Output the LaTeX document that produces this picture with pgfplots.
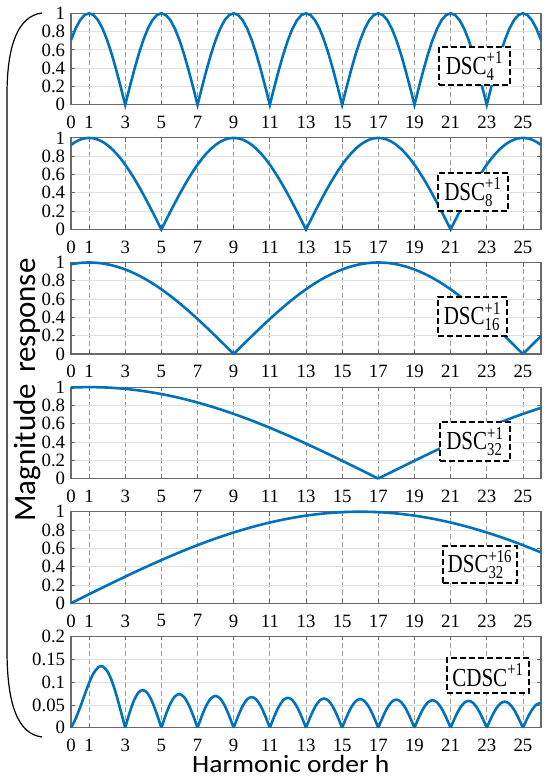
\documentclass[border=0pt]{standalone}
\usepackage{fontspec}
\setmainfont{Liberation Serif}
\newfontfamily\tnr{Liberation Serif}
\newfontfamily\calibri{Carlito}
\usepackage{amsmath}
\usepackage{graphicx}
\usepackage{pgfplots}
\pgfplotsset{compat=1.18}
\definecolor{mblue}{RGB}{0,114,189}
\definecolor{framec}{RGB}{105,105,105}

\pgfplotsset{
  panel/.style={
    scale only axis, width=235pt, height=45.75pt,
    anchor=north west,
    xmin=0, xmax=26,
    xtick={0,1,3,5,7,9,11,13,15,17,19,21,23,25},
    ymin=0,
    xmajorgrids, ymajorgrids,
    every axis x grid/.style={draw=black!40, dash pattern=on 2.5pt off 1.5pt, line width=0.4pt},
    every axis y grid/.style={draw=black!12, line width=0.4pt},
    axis line style={draw=framec, line width=0.6pt},
    tick align=inside,
    major tick length=2pt,
    tick style={draw=framec, line width=0.4pt},
    tick label style={font=\tnr\fontsize{9.4pt}{10pt}\selectfont, text=black},
    xticklabel style={yshift=-2.2pt},
    yticklabel style={xshift=0.6pt},
    /pgf/number format/assume math mode=true,
    /pgf/number format/fixed,
    /pgf/number format/precision=2,
    clip=false,
    unbounded coords=jump,
  },
  unit/.style={ymax=1, ytick={0,0.2,0.4,0.6,0.8,1}},
  curve/.style={mblue, line width=1.3pt, mark=none},
}

\newcommand{\lbox}[4]{\node[draw=black, dash pattern=on 3pt off 1.5pt, line width=0.6pt, fill=white, minimum width=#2, minimum height=#3, inner sep=0pt] at #1 {\scalebox{0.81}[1]{\tnr\fontsize{13pt}{15pt}\selectfont #4}};}

\begin{document}
\begin{tikzpicture}
\path[use as bounding box] (0pt,0pt) rectangle (275pt,-390.5pt);

% ---------- Panel 1: DSC_4^{+1}
\begin{axis}[panel, unit, at={(35.5pt,-6.65pt)}]
\addplot[curve] coordinates {
(0,0.70711)(0.25,0.83147)(0.5,0.92388)(0.75,0.98079)
(1,1)(1.25,0.98079)(1.5,0.92388)(1.75,0.83147)(2,0.70711)(2.25,0.55557)(2.5,0.38268)(2.75,0.19509)
(3,0)(3.25,0.19509)(3.5,0.38268)(3.75,0.55557)(4,0.70711)(4.25,0.83147)(4.5,0.92388)(4.75,0.98079)
(5,1)(5.25,0.98079)(5.5,0.92388)(5.75,0.83147)(6,0.70711)(6.25,0.55557)(6.5,0.38268)(6.75,0.19509)
(7,0)(7.25,0.19509)(7.5,0.38268)(7.75,0.55557)(8,0.70711)(8.25,0.83147)(8.5,0.92388)(8.75,0.98079)
(9,1)(9.25,0.98079)(9.5,0.92388)(9.75,0.83147)(10,0.70711)(10.25,0.55557)(10.5,0.38268)(10.75,0.19509)
(11,0)(11.25,0.19509)(11.5,0.38268)(11.75,0.55557)(12,0.70711)(12.25,0.83147)(12.5,0.92388)(12.75,0.98079)
(13,1)(13.25,0.98079)(13.5,0.92388)(13.75,0.83147)(14,0.70711)(14.25,0.55557)(14.5,0.38268)(14.75,0.19509)
(15,0)(15.25,0.19509)(15.5,0.38268)(15.75,0.55557)(16,0.70711)(16.25,0.83147)(16.5,0.92388)(16.75,0.98079)
(17,1)(17.25,0.98079)(17.5,0.92388)(17.75,0.83147)(18,0.70711)(18.25,0.55557)(18.5,0.38268)(18.75,0.19509)
(19,0)(19.25,0.19509)(19.5,0.38268)(19.75,0.55557)(20,0.70711)(20.25,0.83147)(20.5,0.92388)(20.75,0.98079)
(21,1)(21.25,0.98079)(21.5,0.92388)(21.75,0.83147)(22,0.70711)(22.25,0.55557)(22.5,0.38268)(22.75,0.19509)
(23,0)(23.25,0.19509)(23.5,0.38268)(23.75,0.55557)(24,0.70711)(24.25,0.83147)(24.5,0.92388)(24.75,0.98079)
(25,1)(25.25,0.98079)(25.5,0.92388)(25.75,0.83147)(26,0.70711)
};
\end{axis}

% ---------- Panel 2: DSC_8^{+1}
\begin{axis}[panel, unit, at={(35.5pt,-68.95pt)}]
\addplot[curve] coordinates {
(0,0.92388)(0.25,0.95694)(0.5,0.98079)(0.75,0.99518)
(1,1)(1.25,0.99518)(1.5,0.98079)(1.75,0.95694)(2,0.92388)(2.25,0.88192)(2.5,0.83147)(2.75,0.77301)
(3,0.70711)(3.25,0.63439)(3.5,0.55557)(3.75,0.47140)(4,0.38268)(4.25,0.29028)(4.5,0.19509)(4.75,0.09802)
(5,0)(5.25,0.09802)(5.5,0.19509)(5.75,0.29028)(6,0.38268)(6.25,0.47140)(6.5,0.55557)(6.75,0.63439)
(7,0.70711)(7.25,0.77301)(7.5,0.83147)(7.75,0.88192)(8,0.92388)(8.25,0.95694)(8.5,0.98079)(8.75,0.99518)
(9,1)(9.25,0.99518)(9.5,0.98079)(9.75,0.95694)(10,0.92388)(10.25,0.88192)(10.5,0.83147)(10.75,0.77301)
(11,0.70711)(11.25,0.63439)(11.5,0.55557)(11.75,0.47140)(12,0.38268)(12.25,0.29028)(12.5,0.19509)(12.75,0.09802)
(13,0)(13.25,0.09802)(13.5,0.19509)(13.75,0.29028)(14,0.38268)(14.25,0.47140)(14.5,0.55557)(14.75,0.63439)
(15,0.70711)(15.25,0.77301)(15.5,0.83147)(15.75,0.88192)(16,0.92388)(16.25,0.95694)(16.5,0.98079)(16.75,0.99518)
(17,1)(17.25,0.99518)(17.5,0.98079)(17.75,0.95694)(18,0.92388)(18.25,0.88192)(18.5,0.83147)(18.75,0.77301)
(19,0.70711)(19.25,0.63439)(19.5,0.55557)(19.75,0.47140)(20,0.38268)(20.25,0.29028)(20.5,0.19509)(20.75,0.09802)
(21,0)(21.25,0.09802)(21.5,0.19509)(21.75,0.29028)(22,0.38268)(22.25,0.47140)(22.5,0.55557)(22.75,0.63439)
(23,0.70711)(23.25,0.77301)(23.5,0.83147)(23.75,0.88192)(24,0.92388)(24.25,0.95694)(24.5,0.98079)(24.75,0.99518)
(25,1)(25.25,0.99518)(25.5,0.98079)(25.75,0.95694)(26,0.92388)
};
\end{axis}

% ---------- Panel 3: DSC_16^{+1}
\begin{axis}[panel, unit, at={(35.5pt,-131.25pt)}]
\addplot[curve, smooth] table {
x y
0 0.98079
0.5 0.99518
1 1
1.5 0.99518
2 0.98079
2.5 0.95694
3 0.92388
3.5 0.88192
4 0.83147
4.5 0.77301
5 0.70711
5.5 0.63439
6 0.55557
6.5 0.47140
7 0.38268
7.5 0.29028
8 0.19509
8.5 0.09802
9 0
nan nan
9 0
9.5 0.09802
10 0.19509
10.5 0.29028
11 0.38268
11.5 0.47140
12 0.55557
12.5 0.63439
13 0.70711
13.5 0.77301
14 0.83147
14.5 0.88192
15 0.92388
15.5 0.95694
16 0.98079
16.5 0.99518
17 1
17.5 0.99518
18 0.98079
18.5 0.95694
19 0.92388
19.5 0.88192
20 0.83147
20.5 0.77301
21 0.70711
21.5 0.63439
22 0.55557
22.5 0.47140
23 0.38268
23.5 0.29028
24 0.19509
24.5 0.09802
25 0
nan nan
25 0
25.5 0.09802
26 0.19509
};
\end{axis}

% ---------- Panel 4: DSC_32^{+1}
\begin{axis}[panel, unit, at={(35.5pt,-193.55pt)}]
\addplot[curve, smooth] table {
x y
0 0.99518
1 1
2 0.99518
3 0.98079
4 0.95694
5 0.92388
6 0.88192
7 0.83147
8 0.77301
9 0.70711
10 0.63439
11 0.55557
12 0.47140
13 0.38268
14 0.29028
15 0.19509
16 0.09802
17 0
nan nan
17 0
18 0.09802
19 0.19509
20 0.29028
21 0.38268
22 0.47140
23 0.55557
24 0.63439
25 0.70711
26 0.77301
};
\end{axis}

% ---------- Panel 5: DSC_32^{+16}
\begin{axis}[panel, unit, at={(35.5pt,-255.85pt)}]
\addplot[curve, smooth] table {
x y
0 0
1 0.09802
2 0.19509
3 0.29028
4 0.38268
5 0.47140
6 0.55557
7 0.63439
8 0.70711
9 0.77301
10 0.83147
11 0.88192
12 0.92388
13 0.95694
14 0.98079
15 0.99518
16 1
17 0.99518
18 0.98079
19 0.95694
20 0.92388
21 0.88192
22 0.83147
23 0.77301
24 0.70711
25 0.63439
26 0.55557
};
\end{axis}

% ---------- Panel 6: CDSC^{+1}
\begin{axis}[panel, at={(35.5pt,-318.15pt)}, ymax=0.2, ytick={0,0.05,0.1,0.15,0.2}]
\addplot[curve, smooth] table {
x y
0 0
0.25 0.019263
0.5 0.044194
0.75 0.071696
1 0.098017
1.25 0.119301
1.5 0.132155
1.625 0.134626
1.75 0.134190
2 0.124393
2.25 0.103352
2.5 0.073183
2.75 0.037313
3 0
nan nan
3 0
3.25 0.034242
3.5 0.061275
3.75 0.077916
4 0.082394
4.25 0.074597
4.5 0.056088
4.75 0.029880
5 0
nan nan
5 0
5.25 0.029091
5.5 0.053141
5.75 0.068708
6 0.073660
6.25 0.067454
6.5 0.051205
6.75 0.027501
7 0
nan nan
7 0
7.25 0.027126
7.5 0.049810
7.75 0.064699
8 0.069664
8.25 0.064020
8.5 0.048755
8.75 0.026262
9 0
nan nan
9 0
9.25 0.026034
9.5 0.047904
9.75 0.062345
10 0.067227
10.25 0.061894
10.5 0.047207
10.75 0.025458
11 0
nan nan
11 0
11.25 0.025290
11.5 0.046587
11.75 0.060679
12 0.065473
12.25 0.060319
12.5 0.046036
12.75 0.024844
13 0
nan nan
13 0
13.25 0.024708
13.5 0.045536
13.75 0.059338
14 0.064057
14.25 0.059033
14.5 0.045070
14.75 0.024330
15 0
nan nan
15 0
15.25 0.024210
15.5 0.044626
15.75 0.058165
16 0.062803
16.25 0.057883
16.5 0.044195
16.75 0.023860
17 0
nan nan
17 0
17.25 0.023745
17.5 0.043769
17.75 0.057047
18 0.061596
18.25 0.056765
18.5 0.043338
18.75 0.023395
19 0
nan nan
19 0
19.25 0.023275
19.5 0.042894
19.75 0.055896
20 0.060341
20.25 0.055591
20.5 0.042428
20.75 0.022897
21 0
nan nan
21 0
21.25 0.022761
21.5 0.041927
21.75 0.054610
22 0.058924
22.25 0.054250
22.5 0.041377
22.75 0.022314
23 0
nan nan
23 0
23.25 0.022147
23.5 0.040757
23.75 0.053036
24 0.057172
24.25 0.052566
24.5 0.040039
24.75 0.021563
25 0
nan nan
25 0
25.25 0.021330
25.5 0.039177
25.75 0.050877
26 0.054734
};
\end{axis}

% ---------- legend boxes
\lbox{(237.25pt,-33pt)}{35.5pt}{19pt}{$\text{DSC}^{\text{+1}}_{\text{4}}$}
\lbox{(236.5pt,-96pt)}{35pt}{19pt}{$\text{DSC}^{\text{+1}}_{\text{8}}$}
\lbox{(236.25pt,-158.25pt)}{34.5pt}{19.5pt}{$\text{DSC}^{\text{+1}}_{\text{16}}$}
\lbox{(237.5pt,-220.75pt)}{35pt}{19.5pt}{$\text{DSC}^{\text{+1}}_{\text{32}}$}
\lbox{(240pt,-282.25pt)}{37pt}{18.5pt}{$\text{DSC}^{\text{+16}}_{\text{32}}$}
\lbox{(244pt,-337.75pt)}{41pt}{17.5pt}{$\text{CDSC}^{\text{+1}}$}

% ---------- bracket and axis labels
\draw[line width=0.6pt] (21pt,-6.5pt) .. controls (9pt,-8pt) and (3.5pt,-22.5pt) .. (3.5pt,-47.5pt) -- (3.5pt,-325pt) .. controls (3.5pt,-352.5pt) and (9pt,-367pt) .. (21pt,-368.5pt);
\node[rotate=90, anchor=base, font=\calibri\fontsize{15.5pt}{18pt}\selectfont] at (17.5pt,-195pt) {Magnitude\hspace{0.35em}response};
\node[anchor=base, font=\calibri\fontsize{12.4pt}{15pt}\selectfont] at (145.4pt,-386pt) {\scalebox{1.11}[1]{Harmonic order h}};
\end{tikzpicture}
\end{document}
